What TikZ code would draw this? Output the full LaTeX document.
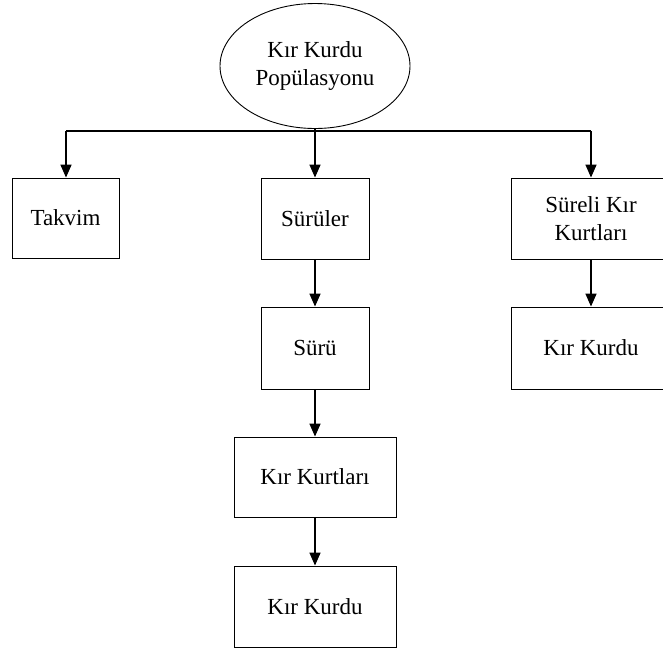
\documentclass[tikz,border=0pt]{standalone}
\usepackage{fontspec}
\setmainfont{Liberation Serif}
\usetikzlibrary{shapes.geometric,arrows.meta}
\begin{document}
\begin{tikzpicture}[x=1pt,y=-1pt,
  every node/.style={font=\fontsize{23}{28}\selectfont, align=center, inner sep=0pt},
  boxnode/.style={draw, line width=0.9pt, rectangle},
  ell/.style={draw, line width=0.9pt, ellipse, minimum width=190pt, minimum height=125pt},
  conn/.style={line width=1.6pt},
  arr/.style={conn, -{Triangle[length=13pt,width=11pt]}}]
\useasboundingbox (0,0) rectangle (663,649);
\clip (0,0) rectangle (663,649);
\node[ell] (pop) at (315,66) {Kır Kurdu\\Popülasyonu};
\node[boxnode, minimum width=107pt, minimum height=80pt] (takvim) at (65.5,218) {Takvim};
\node[boxnode, minimum width=108pt, minimum height=81pt] (suruler) at (315,218.5) {Sürüler};
\node[boxnode, minimum width=160pt, minimum height=81pt] (sureli) at (591,218.5) {Süreli Kır\\Kurtları};
\node[boxnode, minimum width=108pt, minimum height=82pt] (suru) at (315,348) {Sürü};
\node[boxnode, minimum width=160pt, minimum height=82pt] (kurdua) at (591,348) {Kır Kurdu};
\node[boxnode, minimum width=162pt, minimum height=80pt] (kurtlari) at (315,477) {Kır Kurtları};
\node[boxnode, minimum width=162pt, minimum height=81pt] (kurdub) at (315,606.5) {Kır Kurdu};
\coordinate (busL) at (66,131);
\coordinate (busR) at (591,131);
\draw[conn] (busL) -- (busR);
\draw[arr] (pop.south) -- (suruler.north);
\draw[arr] (busL) -- (busL |- takvim.north);
\draw[arr] (busR) -- (sureli.north);
\draw[arr] (suruler.south) -- (suru.north);
\draw[arr] (suru.south) -- (kurtlari.north);
\draw[arr] (kurtlari.south) -- (kurdub.north);
\draw[arr] (sureli.south) -- (kurdua.north);
\end{tikzpicture}
\end{document}
